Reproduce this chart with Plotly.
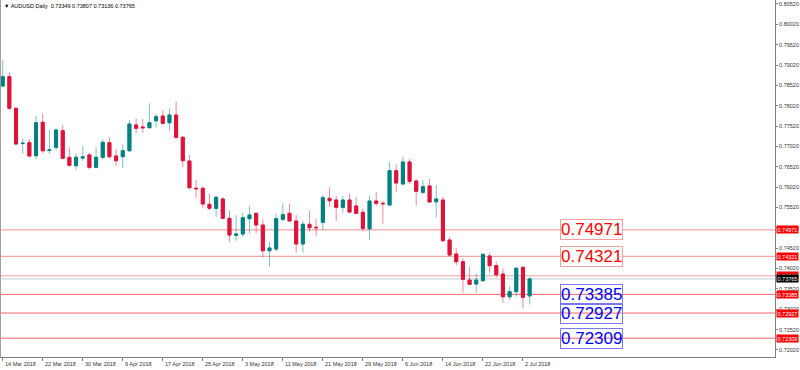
import plotly.graph_objects as go
import pandas as pd

# ---------------- data ----------------
symbol_title = "AUDUSD,Daily"
dates = pd.bdate_range("2018-03-14", "2018-07-03")

opens = [0.78505, 0.78734, 0.77957, 0.77090, 0.77112, 0.76792, 0.77613, 0.76925, 0.76999, 0.77407,
         0.76753, 0.76547, 0.76736, 0.76810, 0.76507, 0.76753, 0.77112, 0.76785, 0.76768, 0.76915,
         0.77547, 0.77498, 0.77480, 0.77652, 0.77768, 0.77603, 0.77792, 0.77245, 0.76662, 0.75992,
         0.75992, 0.75598, 0.75500, 0.75729, 0.75254, 0.74837, 0.74869, 0.75245, 0.75377, 0.75090,
         0.74458, 0.74500, 0.75230, 0.75377, 0.75188, 0.74623, 0.75107, 0.75033, 0.75156, 0.75746,
         0.75704, 0.75525, 0.75704, 0.75557, 0.75402, 0.74999, 0.75679, 0.75623, 0.75581, 0.76424,
         0.76097, 0.76638, 0.76171, 0.75893, 0.76048, 0.75662, 0.75704, 0.74721, 0.74377, 0.74188,
         0.73738, 0.73640, 0.73721, 0.74328, 0.74090, 0.73886, 0.73328, 0.73451, 0.74050, 0.73349]
highs = [0.79144, 0.78842, 0.77972, 0.77220, 0.77195, 0.77768, 0.77834, 0.77424, 0.77466, 0.77547,
         0.76999, 0.76851, 0.77031, 0.76866, 0.76999, 0.77195, 0.77245, 0.76950, 0.77080, 0.77670,
         0.77711, 0.77687, 0.78080, 0.77817, 0.77898, 0.77957, 0.78119, 0.77284, 0.76810, 0.76195,
         0.76031, 0.75851, 0.75802, 0.75770, 0.75441, 0.75335, 0.75392, 0.75557, 0.75392, 0.75230,
         0.74679, 0.75360, 0.75623, 0.75606, 0.75335, 0.75188, 0.75434, 0.75237, 0.75827, 0.76016,
         0.75802, 0.75802, 0.75869, 0.75770, 0.75500, 0.75802, 0.75901, 0.75679, 0.76645, 0.76576,
         0.76768, 0.76711, 0.76213, 0.76195, 0.76220, 0.76073, 0.75785, 0.74788, 0.74517, 0.74272,
         0.74065, 0.73903, 0.74394, 0.74414, 0.74188, 0.74026, 0.73574, 0.74065, 0.74070, 0.73807]
lows = [0.78488, 0.77915, 0.77073, 0.76834, 0.76753, 0.76704, 0.76851, 0.76834, 0.76933, 0.76704,
        0.76522, 0.76441, 0.76670, 0.76458, 0.76483, 0.76704, 0.76729, 0.76539, 0.76490, 0.76891,
        0.77343, 0.77358, 0.77466, 0.77490, 0.77571, 0.77407, 0.77195, 0.76522, 0.75967, 0.75746,
        0.75500, 0.75458, 0.75294, 0.75230, 0.74679, 0.74704, 0.74802, 0.74886, 0.74886, 0.74296,
        0.74065, 0.74434, 0.75171, 0.75171, 0.74409, 0.74409, 0.74925, 0.74827, 0.74967, 0.75539,
        0.75188, 0.75392, 0.75377, 0.75360, 0.74925, 0.74721, 0.75557, 0.75120, 0.75569, 0.75908,
        0.76073, 0.76097, 0.75564, 0.75844, 0.75638, 0.75279, 0.74679, 0.74328, 0.74107, 0.73426,
        0.73616, 0.73426, 0.73697, 0.73918, 0.73805, 0.73181, 0.73247, 0.73328, 0.73043, 0.73136]
closes = [0.78734, 0.77957, 0.77080, 0.77097, 0.76785, 0.77603, 0.76915, 0.76933, 0.77424, 0.76729,
          0.76557, 0.76753, 0.76761, 0.76507, 0.76753, 0.77122, 0.76768, 0.76670, 0.76915, 0.77571,
          0.77466, 0.77480, 0.77603, 0.77751, 0.77589, 0.77792, 0.77245, 0.76670, 0.76006, 0.75982,
          0.75606, 0.75500, 0.75770, 0.75254, 0.74844, 0.74869, 0.75269, 0.75335, 0.75090, 0.74458,
          0.74525, 0.75245, 0.75343, 0.75188, 0.74623, 0.75107, 0.75023, 0.75023, 0.75761, 0.75687,
          0.75525, 0.75704, 0.75409, 0.75377, 0.75009, 0.75679, 0.75623, 0.75613, 0.76424, 0.76122,
          0.76638, 0.76164, 0.75918, 0.76031, 0.75655, 0.75729, 0.74704, 0.74353, 0.74188, 0.73756,
          0.73633, 0.73738, 0.74370, 0.74090, 0.73869, 0.73328, 0.73451, 0.74026, 0.73313, 0.73765]

tick_labels = ["14 Mar 2018", "22 Mar 2018", "30 Mar 2018", "9 Apr 2018", "17 Apr 2018",
               "25 Apr 2018", "3 May 2018", "11 May 2018", "21 May 2018", "29 May 2018",
               "6 Jun 2018", "14 Jun 2018", "22 Jun 2018", "2 Jul 2018"]
tick_dates = ["2018-03-14", "2018-03-22", "2018-03-30", "2018-04-09", "2018-04-17",
              "2018-04-25", "2018-05-03", "2018-05-11", "2018-05-21", "2018-05-29",
              "2018-06-06", "2018-06-14", "2018-06-22", "2018-07-02"]

y_ticks = [0.80520, 0.80020, 0.79520, 0.79020, 0.78520, 0.78020, 0.77520, 0.77020, 0.76520,
           0.76020, 0.75520, 0.75020, 0.74520, 0.74020, 0.73520, 0.73020, 0.72520, 0.72020]

red_box_levels = [0.74971, 0.74321]
blue_box_levels = [0.73385, 0.72927, 0.72309]
ask_level = 0.73843
bid_level = 0.73765

# ---------------- figure ----------------
x = list(range(len(dates)))
date_pos = {d.strftime("%Y-%m-%d"): i for i, d in enumerate(dates)}
tick_pos = [date_pos[d] for d in tick_dates]

UP = "#008080"
DN = "#DC143C"

fig = go.Figure()

# wicks (lighter)
fig.add_trace(go.Candlestick(
    x=x, open=opens, high=highs, low=lows, close=closes,
    increasing=dict(line=dict(color="rgba(0,128,128,0.5)", width=1), fillcolor="rgba(0,128,128,0.5)"),
    decreasing=dict(line=dict(color="rgba(220,20,60,0.5)", width=1), fillcolor="rgba(220,20,60,0.5)"),
    whiskerwidth=0, hoverinfo="skip", showlegend=False))
# bodies (solid)
body_hi = [max(o, c) for o, c in zip(opens, closes)]
body_lo = [min(o, c) for o, c in zip(opens, closes)]
fig.add_trace(go.Candlestick(
    x=x, open=opens, high=body_hi, low=body_lo, close=closes,
    increasing=dict(line=dict(color=UP, width=1), fillcolor=UP),
    decreasing=dict(line=dict(color=DN, width=1), fillcolor=DN),
    whiskerwidth=0, hoverinfo="skip", showlegend=False))

shapes = []
for lv in red_box_levels:
    shapes.append(dict(type="line", xref="paper", x0=0, x1=1, yref="y", y0=lv, y1=lv,
                       line=dict(color="#F48C8C", width=1), layer="below"))
for lv in blue_box_levels:
    shapes.append(dict(type="line", xref="paper", x0=0, x1=1, yref="y", y0=lv, y1=lv,
                       line=dict(color="#F06868", width=1), layer="below"))
shapes.append(dict(type="line", xref="paper", x0=0, x1=1, yref="y", y0=ask_level, y1=ask_level,
                   line=dict(color="#F4A0A0", width=1), layer="below"))
shapes.append(dict(type="line", xref="paper", x0=0, x1=1, yref="y", y0=bid_level, y1=bid_level,
                   line=dict(color="#C4CBD2", width=1), layer="below"))
shapes.append(dict(type="line", xref="paper", x0=0, x1=0, yref="paper", y0=0, y1=1,
                   line=dict(color="#A0A0A0", width=2)))

annotations = []
small_font = "Liberation Sans, Arial, sans-serif"
# title
annotations.append(dict(
    xref="paper", yref="paper", x=0, y=1, xanchor="left", yanchor="top", xshift=2, yshift=-1,
    text="▼ %s  %.5f %.5f %.5f %.5f" % (symbol_title, opens[-1], highs[-1], lows[-1], closes[-1]),
    showarrow=False, font=dict(size=5.5, color="#000000", family=small_font)))
# x labels
for p, lab in zip(tick_pos, tick_labels):
    annotations.append(dict(xref="x", yref="paper", x=p, y=0, xanchor="left", yanchor="top",
                            yshift=-2, text=lab, showarrow=False,
                            font=dict(size=5.5, color="#333333", family=small_font)))
# price boxes
box_x = 83.5
for lv in red_box_levels:
    annotations.append(dict(xref="x", yref="y", x=box_x, y=lv, xanchor="left", yanchor="middle",
                            text="%.5f" % lv, showarrow=False, bgcolor="white",
                            bordercolor="#F4A0A0", borderwidth=1, borderpad=0,
                            font=dict(size=17, color="#FF0000", family=small_font)))
for lv in blue_box_levels:
    annotations.append(dict(xref="x", yref="y", x=box_x, y=lv, xanchor="left", yanchor="middle",
                            text="%.5f" % lv, showarrow=False, bgcolor="rgba(255,255,255,0)",
                            bordercolor="#7878FF", borderwidth=1, borderpad=0,
                            font=dict(size=17, color="#0000FF", family=small_font)))
# right axis price tags
for lv in red_box_levels + [ask_level] + blue_box_levels:
    annotations.append(dict(xref="paper", yref="y", x=1, y=lv, xanchor="left", yanchor="middle",
                            xshift=1, text="%.5f" % lv, showarrow=False, bgcolor="#FF0000",
                            borderpad=0.5, font=dict(size=5.5, color="white", family=small_font)))
annotations.append(dict(xref="paper", yref="y", x=1, y=bid_level, xanchor="left", yanchor="middle",
                        xshift=1, text="%.5f" % bid_level, showarrow=False, bgcolor="#000000",
                        borderpad=0.5, font=dict(size=5.5, color="white", family=small_font)))

fig.update_layout(
    width=800, height=370,
    margin=dict(l=0, r=25, t=0, b=13),
    paper_bgcolor="white", plot_bgcolor="white",
    boxgap=0.35,
    showlegend=False,
    shapes=shapes, annotations=annotations,
    xaxis=dict(range=[-0.405, 115.79], rangeslider=dict(visible=False), showgrid=False,
               zeroline=False, showline=True, linecolor="#808080", linewidth=1,
               ticks="outside", ticklen=3, tickcolor="#808080", tickvals=tick_pos,
               showticklabels=False, fixedrange=True),
    yaxis=dict(side="right", range=[0.71847, 0.80618], showgrid=False, zeroline=False,
               showline=True, linecolor="#808080", linewidth=1, ticks="outside", ticklen=2,
               tickcolor="#808080", tickvals=y_ticks, ticktext=["%.5f" % v for v in y_ticks],
               tickfont=dict(size=5.5, color="#333333", family=small_font), fixedrange=True),
)

fig.write_html("out.html", config={"displayModeBar": False},
               post_script="document.body.style.margin='0';document.body.style.overflow='hidden';")
